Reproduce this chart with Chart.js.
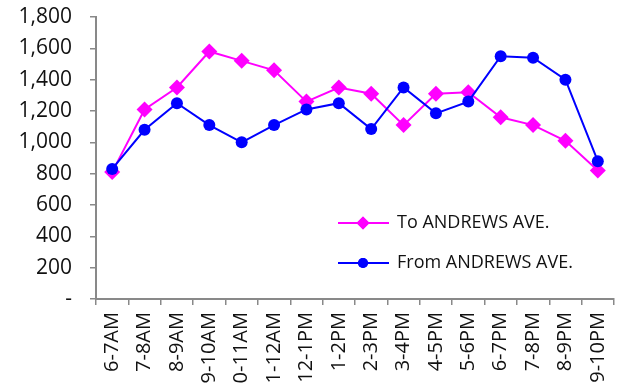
<!DOCTYPE html>
<html lang="en">
<head>
  <meta charset="UTF-8" />
  <title>Hourly Volumes - ANDREWS AVE.</title>
  <script src="https://cdn.jsdelivr.net/npm/chart.js"></script>
  <style>
    body { margin: 0; background: #fff; overflow: hidden; }
  </style>
</head>
<body>
  <canvas id="lineChart" width="622" height="383"></canvas>

  <script>
    const hours = ['6-7AM', '7-8AM', '8-9AM', '9-10AM', '10-11AM', '11-12AM', '12-1PM', '1-2PM',
                   '2-3PM', '3-4PM', '4-5PM', '5-6PM', '6-7PM', '7-8PM', '8-9PM', '9-10PM'];
    const toAndrews = [810, 1210, 1350, 1580, 1520, 1460, 1260, 1350, 1310, 1110, 1310, 1320, 1160, 1110, 1010, 820];
    const fromAndrews = [830, 1080, 1250, 1110, 1000, 1110, 1210, 1250, 1085, 1350, 1185, 1260, 1550, 1540, 1400, 880];

    const font = "'Open Sans', sans-serif";
    const axisColor = '#898989';

    // legend sits inside the plot, so it's drawn by hand
    const insideLegend = {
      id: 'insideLegend',
      afterDraw(chart) {
        const ctx = chart.ctx;
        const rows = [
          { ds: chart.data.datasets[0], y: 223, r: 6.5 },
          { ds: chart.data.datasets[1], y: 263, r: 5 }
        ];
        ctx.save();
        rows.forEach(row => {
          ctx.strokeStyle = row.ds.borderColor;
          ctx.lineWidth = 2;
          ctx.beginPath();
          ctx.moveTo(338, row.y);
          ctx.lineTo(389, row.y);
          ctx.stroke();
          ctx.fillStyle = row.ds.borderColor;
          Chart.helpers.drawPoint(ctx, {
            pointStyle: row.ds.pointStyle,
            radius: row.r,
            rotation: 0,
            borderWidth: 0
          }, 363, row.y);
          ctx.fill();
          ctx.fillStyle = '#111';
          ctx.font = '18px ' + font;
          ctx.textBaseline = 'middle';
          ctx.fillText(row.ds.label, 397, row.y);
        });
        ctx.restore();
      }
    };

    new Chart(document.getElementById('lineChart').getContext('2d'), {
      type: 'line',
      data: {
        labels: hours,
        datasets: [
          {
            label: 'To ANDREWS AVE.',
            data: toAndrews,
            borderColor: '#ff00ff',
            backgroundColor: '#ff00ff',
            borderWidth: 2,
            pointStyle: 'rectRot',
            pointRadius: 8,
            pointBorderWidth: 0,
            tension: 0,
            order: 1
          },
          {
            label: 'From ANDREWS AVE.',
            data: fromAndrews,
            borderColor: '#0000ff',
            backgroundColor: '#0000ff',
            borderWidth: 2,
            pointStyle: 'circle',
            pointRadius: 6,
            pointBorderWidth: 0,
            tension: 0,
            order: 0
          }
        ]
      },
      options: {
        responsive: false,
        animation: false,
        layout: { padding: { top: 17, right: 3, left: 0, bottom: 0 } },
        plugins: {
          legend: { display: false },
          tooltip: { enabled: false }
        },
        scales: {
          x: {
            offset: true,
            grid: {
              offset: true,
              drawOnChartArea: false,
              color: axisColor,
              tickLength: 6,
              lineWidth: 1.5
            },
            border: { color: axisColor, width: 2 },
            ticks: {
              minRotation: 90,
              maxRotation: 90,
              autoSkip: false,
              color: '#111',
              padding: 7,
              font: { family: font, size: 20 }
            },
            afterFit(scale) {
              scale.height = 84;
              scale.paddingLeft = 0;
              scale.paddingRight = 0;
            }
          },
          y: {
            min: 0,
            max: 1800,
            grid: {
              drawOnChartArea: false,
              color: axisColor,
              tickLength: 6,
              lineWidth: 1.5
            },
            border: { color: axisColor, width: 2 },
            ticks: {
              stepSize: 200,
              color: '#111',
              padding: 18,
              font: { family: font, size: 21 },
              callback: v => v === 0 ? '-' : v.toLocaleString('en-US')
            },
            afterFit(scale) {
              scale.width = 96;
              scale.paddingTop = 0;
              scale.paddingBottom = 0;
            }
          }
        }
      },
      plugins: [insideLegend]
    });
  </script>
</body>
</html>
